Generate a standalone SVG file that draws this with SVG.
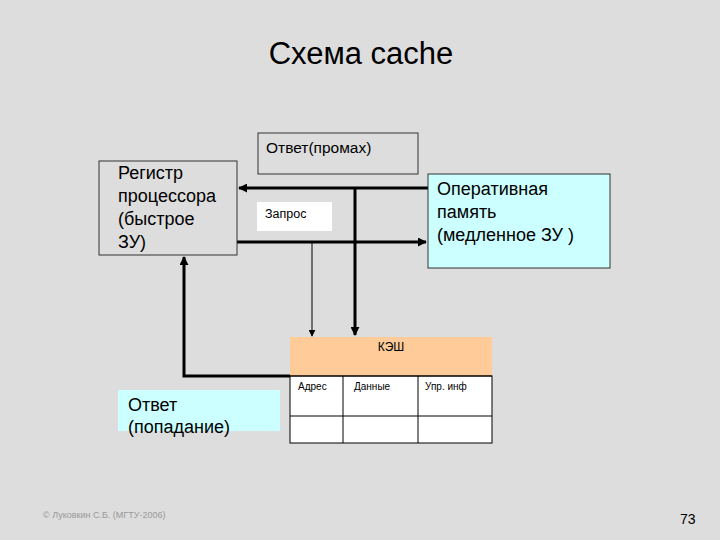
<svg xmlns="http://www.w3.org/2000/svg" width="720" height="540" viewBox="0 0 720 540">
<defs>
<marker id="ah" viewBox="0 0 10 10" refX="9" refY="5" markerWidth="3" markerHeight="3" orient="auto" markerUnits="strokeWidth"><path d="M0,0 L10,5 L0,10 z" fill="#000"/></marker>
<marker id="ahs" viewBox="0 0 10 10" refX="9" refY="5" markerWidth="7" markerHeight="7" orient="auto" markerUnits="userSpaceOnUse"><path d="M0,0 L10,5 L0,10 z" fill="#000"/></marker>
<style>
text{font-family:"Liberation Sans",Arial,sans-serif;fill:#000}
.big{font-size:18px}
.sm{font-size:10px}
.box{stroke:#333;stroke-width:1}
.thick{stroke:#000;stroke-width:3;fill:none}
.thin{stroke:#000;stroke-width:1;fill:none}
</style>
</defs>
<rect width="720" height="540" fill="#DDDDDD"/>
<text x="361" y="64" font-size="31" text-anchor="middle">Схема cache</text>

<g id="connectors">
<line class="thick" x1="428" y1="188" x2="239" y2="188" marker-end="url(#ah)"/>
<line class="thick" x1="237" y1="242" x2="426" y2="242" marker-end="url(#ah)"/>
<line class="thick" x1="355" y1="188" x2="355" y2="335" marker-end="url(#ah)"/>
<line class="thin" x1="312" y1="242" x2="312" y2="336" marker-end="url(#ahs)"/>
<polyline class="thick" points="290,376 184,376 184,257" marker-end="url(#ah)"/>
</g>

<g id="otvet-promah">
<rect class="box" x="258" y="133" width="160" height="41" fill="none"/>
<text x="266" y="153" font-size="15.5">Ответ(промах)</text>
</g>

<g id="registr">
<rect class="box" x="99" y="161" width="138" height="94" fill="none"/>
<text class="big" x="118" y="179">Регистр</text>
<text class="big" x="118" y="202">процессора</text>
<text class="big" x="118" y="225">(быстрое</text>
<text class="big" x="118" y="248">ЗУ)</text>
</g>

<g id="zapros">
<rect x="257" y="202" width="75" height="29" fill="#FFFFFF"/>
<text x="265" y="218" font-size="12.5">Запрос</text>
</g>

<g id="ram">
<rect class="box" x="428" y="174" width="182" height="94" fill="#CCFFFF"/>
<text class="big" x="437" y="195">Оперативная</text>
<text class="big" x="437" y="218">память</text>
<text class="big" x="437" y="241">(медленное ЗУ )</text>
</g>

<g id="cache">
<rect x="290" y="337" width="202" height="39" fill="#FFCC99"/>
<rect x="290" y="376" width="202" height="67" fill="#FFFFFF" stroke="#000" stroke-width="1"/>
<line class="thin" x1="290" y1="416" x2="492" y2="416"/>
<line class="thin" x1="343" y1="376" x2="343" y2="443"/>
<line class="thin" x1="418" y1="376" x2="418" y2="443"/>
<line class="thin" x1="290" y1="376" x2="492" y2="376"/>
<text x="391" y="351" font-size="12" text-anchor="middle">КЭШ</text>
<text class="sm" x="298" y="390">Адрес</text>
<text class="sm" x="354" y="390">Данные</text>
<text class="sm" x="425" y="390">Упр. инф</text>
</g>

<g id="otvet-popadanie">
<rect x="118" y="390" width="162" height="41" fill="#CCFFFF"/>
<text class="big" x="128" y="411">Ответ</text>
<text class="big" x="128" y="433">(попадание)</text>
</g>

<text x="43" y="518" font-size="9" style="fill:#999999">© Луковкин С.Б. (МГТУ-2006)</text>
<text x="680" y="524" font-size="14">73</text>
</svg>
